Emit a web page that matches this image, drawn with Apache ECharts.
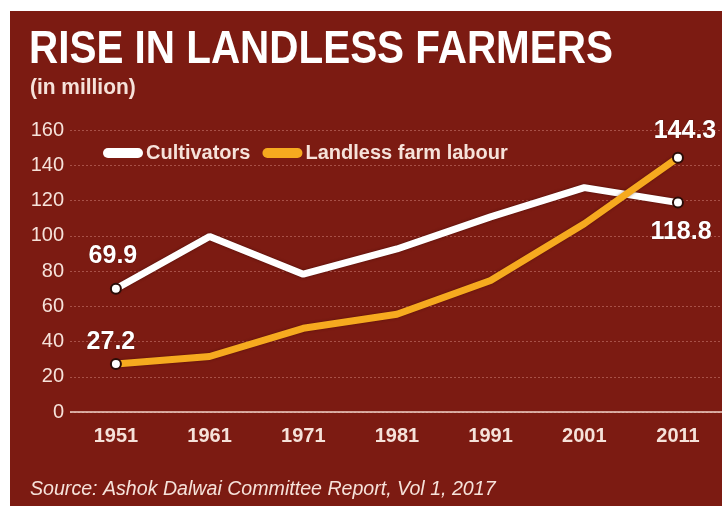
<!DOCTYPE html>
<html>
<head>
<meta charset="utf-8">
<script src="https://cdn.jsdelivr.net/npm/echarts@6/dist/echarts.min.js"></script>
<style>
  html, body { margin: 0; padding: 0; background: #ffffff; }
  #chart { width: 722px; height: 509px; }
</style>
</head>
<body>
<div id="chart"></div>
<script>
// Census years and workforce figures (in million)
const years = [1951, 1961, 1971, 1981, 1991, 2001, 2011];
const cultivators = [69.9, 99.6, 78.2, 92.5, 110.7, 127.3, 118.8];
const landlessLabour = [27.2, 31.5, 47.5, 55.5, 74.6, 106.8, 144.3];
const yTicks = [0, 20, 40, 60, 80, 100, 120, 140, 160];
const seriesNames = ['Cultivators', 'Landless farm labour'];

const BG = '#7c1b12';
const TEXT = '#f6e2da';
const WHITE = '#ffffff';
const ORANGE = '#f6aa1f';
const FONT = '"Liberation Sans", Arial, sans-serif';

// Capsule-shaped legend swatch
const CAPSULE = 'path://M5,0 H35 A5,5 0 0 1 35,10 H5 A5,5 0 0 1 5,0 Z';

// Only the first and last census points carry a marker and a value label
function buildPoints(values, firstPos, lastPos) {
  return values.map((v, i) => {
    const isEnd = i === 0 || i === values.length - 1;
    const item = { value: [years[i], v] };
    if (isEnd) {
      const pos = i === 0 ? firstPos : lastPos;
      item.symbol = 'circle';
      item.symbolSize = 10;
      item.label = {
        show: true,
        position: pos.position,
        distance: pos.distance,
        offset: pos.offset,
        formatter: String(v)
      };
    } else {
      item.symbol = 'none';
      item.label = { show: false };
    }
    return item;
  });
}

const chart = echarts.init(document.getElementById('chart'), null, { renderer: 'canvas' });

const labelStyle = {
  color: WHITE,
  fontFamily: FONT,
  fontWeight: 'bold',
  fontSize: 25,
  textBorderColor: 'rgba(60,10,5,0.35)',
  textBorderWidth: 1
};

chart.setOption({
  backgroundColor: '#ffffff',
  animation: false,
  graphic: [
    {
      type: 'rect',
      z: -10,
      shape: { x: 10, y: 11, width: 712, height: 495 },
      style: { fill: BG }
    },
    {
      type: 'text',
      left: 29, top: 27,
      scaleX: 0.86,
      style: {
        text: 'RISE IN LANDLESS FARMERS',
        fill: WHITE,
        font: 'bold 47px ' + FONT
      }
    },
    {
      type: 'text',
      left: 30, top: 77,
      scaleX: 0.95,
      style: {
        text: '(in million)',
        fill: TEXT,
        font: 'bold 22px ' + FONT
      }
    },
    {
      type: 'text',
      left: 30, top: 479,
      scaleX: 0.98,
      style: {
        text: 'Source: Ashok Dalwai Committee Report, Vol 1, 2017',
        fill: TEXT,
        font: 'italic 20px ' + FONT
      }
    }
  ],
  legend: {
    left: 98,
    top: 138,
    itemWidth: 40,
    itemHeight: 10,
    itemGap: 12,
    data: [
      { name: seriesNames[0], icon: CAPSULE, itemStyle: { color: WHITE, borderWidth: 0 } },
      { name: seriesNames[1], icon: CAPSULE, itemStyle: { color: ORANGE, borderWidth: 0 } }
    ],
    textStyle: {
      color: TEXT,
      fontFamily: FONT,
      fontWeight: 'bold',
      fontSize: 20,
      padding: [0, 0, 0, -2]
    }
  },
  grid: { left: 70, right: 0, top: 130, bottom: 97 },
  xAxis: {
    type: 'value',
    min: 1946.1,
    max: 2015.7,
    splitLine: { show: false },
    axisTick: { show: false },
    axisLine: { show: false },
    axisLabel: {
      customValues: years,
      color: TEXT,
      fontFamily: FONT,
      fontWeight: 'bold',
      fontSize: 20,
      margin: 14,
      formatter: v => String(Math.round(v))
    }
  },
  yAxis: {
    type: 'value',
    min: yTicks[0],
    max: yTicks[yTicks.length - 1],
    interval: 20,
    axisLine: { show: false },
    axisTick: { show: false },
    axisLabel: {
      color: TEXT,
      fontFamily: FONT,
      fontSize: 20,
      margin: 6
    },
    splitLine: {
      show: true,
      lineStyle: { color: 'rgba(240,170,160,0.38)', type: [2, 2], width: 1 }
    }
  },
  series: [
    {
      name: seriesNames[0],
      type: 'line',
      z: 3,
      color: WHITE,
      data: buildPoints(cultivators,
        { position: 'top', distance: 14, offset: [-3, 0] },
        { position: 'bottom', distance: 11, offset: [3, 0] }),
      lineStyle: { color: WHITE, width: 7, shadowColor: 'rgba(40,5,0,0.5)', shadowBlur: 3 },
      itemStyle: { color: WHITE, borderColor: '#2a0d08', borderWidth: 2 },
      label: labelStyle,
      markLine: {
        silent: true,
        symbol: 'none',
        label: { show: false },
        lineStyle: { color: '#f3d4ca', type: 'solid', width: 1.5 },
        data: [{ yAxis: 0 }]
      }
    },
    {
      name: seriesNames[1],
      type: 'line',
      z: 4,
      color: ORANGE,
      data: buildPoints(landlessLabour,
        { position: 'top', distance: 3, offset: [-5, 0] },
        { position: 'top', distance: 8, offset: [7, 0] }),
      lineStyle: { color: ORANGE, width: 7, shadowColor: 'rgba(40,5,0,0.4)', shadowBlur: 3 },
      itemStyle: { color: WHITE, borderColor: '#2a0d08', borderWidth: 2 },
      label: labelStyle
    }
  ]
});
</script>
</body>
</html>
